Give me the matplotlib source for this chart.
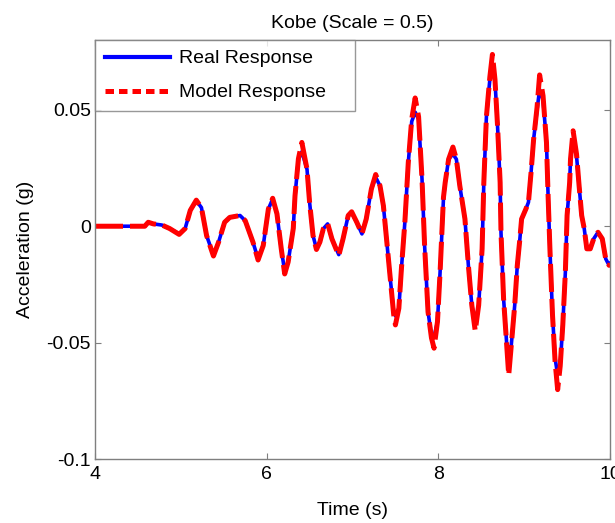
import matplotlib
matplotlib.use("Agg")
import matplotlib.pyplot as plt
from matplotlib.lines import Line2D

plt.rcParams['font.family'] = ['Liberation Sans', 'DejaVu Sans']

time = [4.00, 4.58, 4.62, 4.68, 4.78, 4.87, 4.98, 5.05, 5.11, 5.18, 5.24, 5.30, 5.38, 5.44,
        5.51, 5.57, 5.69, 5.75, 5.84, 5.90, 5.96, 6.02, 6.07, 6.12, 6.17, 6.21, 6.25, 6.31,
        6.33, 6.37, 6.41, 6.47, 6.50, 6.54, 6.58, 6.62, 6.66, 6.71, 6.76, 6.84, 6.89, 6.95,
        6.99, 7.05, 7.11, 7.16, 7.22, 7.27, 7.32, 7.36, 7.40, 7.44, 7.48, 7.50, 7.54, 7.57,
        7.61, 7.65, 7.69, 7.73, 7.77, 7.81, 7.84, 7.88, 7.92, 7.95, 7.99, 8.02, 8.06, 8.08,
        8.12, 8.17, 8.21, 8.25, 8.31, 8.35, 8.39, 8.43, 8.47, 8.51, 8.53, 8.56, 8.60, 8.63,
        8.66, 8.69, 8.72, 8.73, 8.76, 8.80, 8.82, 8.85, 8.89, 8.92, 8.95, 8.97, 9.02, 9.05,
        9.08, 9.11, 9.15, 9.18, 9.22, 9.26, 9.28, 9.30, 9.33, 9.36, 9.39, 9.42, 9.45, 9.48,
        9.50, 9.53, 9.54, 9.57, 9.61, 9.64, 9.67, 9.70, 9.73, 9.77, 9.81, 9.86, 9.91, 9.95,
        9.99, 10.00]

real_response = [0, 0, 0.0017, 0.0010, 0.0005, -0.0010, -0.0033, -0.0010, 0.0068, 0.0110, 0.0080,
                 -0.0040, -0.0124, -0.0068, 0.0017, 0.0038, 0.0046, 0.0024, -0.0068, -0.0140,
                 -0.0083, 0.0074, 0.0117, 0.0053, -0.0097, -0.0195, -0.0154, -0.0010, 0.0130,
                 0.0288, 0.0320, 0.0245, 0.0103, -0.0040, -0.0097, -0.0068, -0.0011, 0.0010,
                 -0.0054, -0.0122, -0.0054, 0.0046, 0.0058, 0.0017, -0.0033, 0.0031, 0.0160,
                 0.0210, 0.0174, 0.0088, -0.0068, -0.0225, -0.0370, -0.0385, -0.0353, -0.0182,
                 0.0017, 0.0274, 0.0450, 0.0490, 0.0460, 0.0202, -0.0083, -0.0368, -0.0470,
                 -0.0475, -0.0410, -0.0200, 0.0120, 0.0188, 0.0288, 0.0310, 0.0288, 0.0174,
                 0.0031, -0.0168, -0.0339, -0.0420, -0.0339, -0.0097, 0.0188, 0.0470, 0.0630,
                 0.0667, 0.0624, 0.0430, 0.0188, -0.0026, -0.0310, -0.0524, -0.0595, -0.0510,
                 -0.0339, -0.0168, -0.0054, 0.0031, 0.0074, 0.0103, 0.0230, 0.0373, 0.0500,
                 0.0587, 0.0544, 0.0359, 0.0117, -0.0097, -0.0380, -0.0567, -0.0638, -0.0595,
                 -0.0424, -0.0197, 0.0046, 0.0188, 0.0288, 0.0373, 0.0302, 0.0174, 0.0046,
                 -0.0011, -0.0097, -0.0097, -0.0054, -0.0026, -0.0054, -0.0140, -0.0168, -0.0160]

model_response = [0, 0, 0.0017, 0.0010, 0.0005, -0.0010, -0.0035, -0.0010, 0.0068, 0.0112, 0.0080,
                  -0.0040, -0.0128, -0.0068, 0.0017, 0.0038, 0.0046, 0.0024, -0.0068, -0.0145,
                  -0.0083, 0.0074, 0.0120, 0.0053, -0.0097, -0.0205, -0.0154, -0.0010, 0.0130,
                  0.0290, 0.0360, 0.0245, 0.0103, -0.0040, -0.0100, -0.0068, -0.0011, 0.0012,
                  -0.0054, -0.0126, -0.0054, 0.0046, 0.0062, 0.0017, -0.0033, 0.0031, 0.0160,
                  0.0222, 0.0174, 0.0088, -0.0068, -0.0225, -0.0380, -0.0424, -0.0353, -0.0182,
                  0.0017, 0.0274, 0.0460, 0.0551, 0.0470, 0.0202, -0.0083, -0.0368, -0.0480,
                  -0.0524, -0.0410, -0.0200, 0.0125, 0.0188, 0.0288, 0.0340, 0.0288, 0.0174,
                  0.0031, -0.0168, -0.0339, -0.0450, -0.0339, -0.0097, 0.0188, 0.0470, 0.0640,
                  0.0738, 0.0630, 0.0430, 0.0188, -0.0026, -0.0310, -0.0530, -0.0640, -0.0510,
                  -0.0339, -0.0168, -0.0054, 0.0031, 0.0074, 0.0103, 0.0230, 0.0373, 0.0510,
                  0.0650, 0.0560, 0.0359, 0.0117, -0.0097, -0.0380, -0.0580, -0.0702, -0.0600,
                  -0.0424, -0.0197, 0.0046, 0.0188, 0.0288, 0.0410, 0.0310, 0.0174, 0.0046,
                  -0.0011, -0.0097, -0.0097, -0.0054, -0.0026, -0.0054, -0.0140, -0.0168, -0.0160]

x_ticks = [4, 6, 8, 10]
y_ticks = [-0.1, -0.05, 0, 0.05]
y_tick_labels = ['-0.1', '-0.05', '0', '0.05']
series_labels = ['Real Response', 'Model Response']
title = 'Kobe (Scale = 0.5)'

fig = plt.figure(figsize=(6.15, 5.23), dpi=100)
ax = fig.add_axes([95/615, 64/523, 515/615, 419/523])

ax.plot(time, real_response, color='#0000ff', lw=2.6, solid_joinstyle='round')
ax.plot(time, model_response, color='#ff0000', lw=3.6, linestyle=(0, (5.6, 1.4)),
        dash_joinstyle='round', dash_capstyle='butt')

ax.set_xlim(4, 10)
ax.set_ylim(-0.1, 0.08)
ax.set_xticks(x_ticks)
ax.set_xticklabels([str(v) for v in x_ticks])
ax.set_yticks(y_ticks)
ax.set_yticklabels(y_tick_labels)

gray = '#7f7f7f'
for s in ax.spines.values():
    s.set_color(gray)
    s.set_linewidth(1.0)
ax.tick_params(direction='in', top=True, right=True, length=4, width=0.8,
               color=gray, labelsize=14, labelcolor='black')
ax.tick_params(axis='x', pad=5)
ax.tick_params(axis='y', pad=3)

ax.set_xlabel('Time (s)', fontsize=14, labelpad=14)
ax.set_ylabel('Acceleration (g)', fontsize=14, labelpad=9)
ax.set_title(title, fontsize=14, pad=9)

handles = [Line2D([], [], color='#0000ff', lw=3.0),
           Line2D([], [], color='#ff0000', lw=3.6, linestyle=(0, (1.7, 1.0)))]
leg_w = (355 - 95) / 515
leg_h = (109 - 40) / 419
leg = ax.legend(handles, series_labels, loc='upper left',
                bbox_to_anchor=(0, 1 - leg_h, leg_w, leg_h), mode='expand',
                borderaxespad=0, fancybox=False, frameon=True, fontsize=14,
                handlelength=3.35, handletextpad=0.45, labelspacing=0.85,
                borderpad=0.5)
leg.get_frame().set_edgecolor(gray)
leg.get_frame().set_linewidth(1.0)

fig.savefig('out.png', dpi=100)
